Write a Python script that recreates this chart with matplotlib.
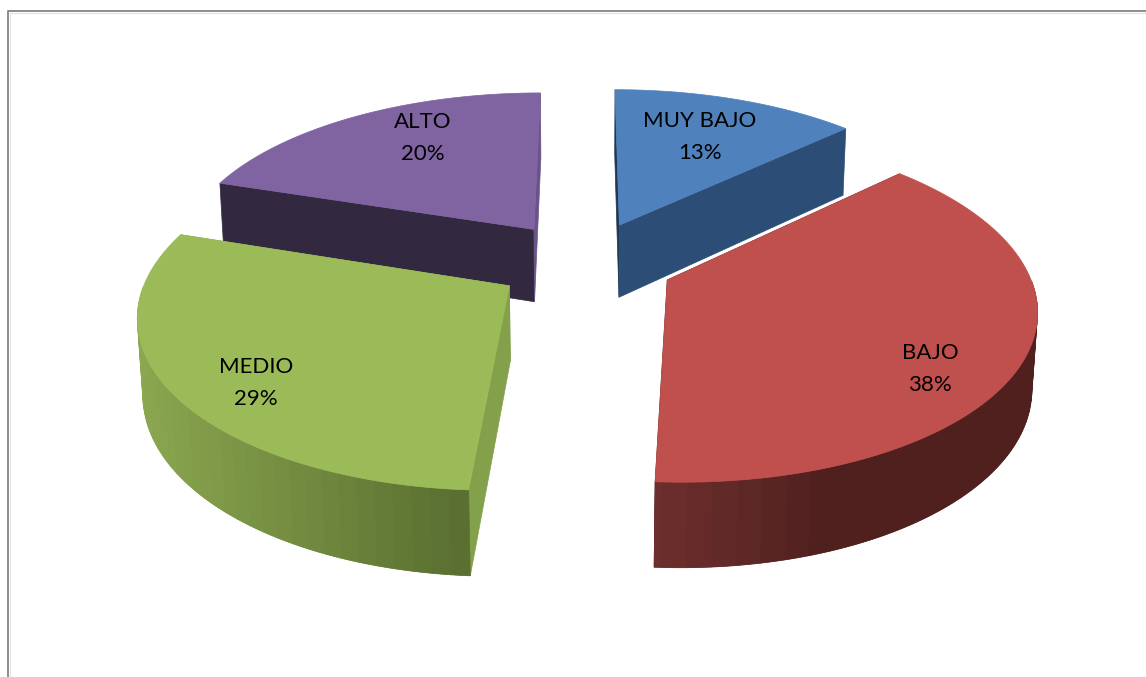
import numpy as np
import matplotlib
matplotlib.use('Agg')
import matplotlib.pyplot as plt
from matplotlib.patches import Polygon

labels = ['MUY BAJO', 'BAJO', 'MEDIO', 'ALTO']
values = [13, 38, 29, 20]

top_colors = ['#4F81BD', '#C0504D', '#9BBB59', '#8064A2']
cut_start = ['#1F3654', '#4F201E', '#83A04A', '#322840']
cut_end = ['#2C4D75', '#4F201E', '#83A04A', '#6B5388']
# outer wall colour at the left and right end of the visible curve
wall_left = ['#2C4D75', '#6E2F2D', '#8BA750', '#322840']
wall_right = ['#2C4D75', '#4F201E', '#586D2F', '#322840']
# part of the curve over which the shade changes, the rest stays flat
wall_span = [1.0, 0.45, 1.0, 1.0]
label_xy = [(700, 137), (930, 369), (256, 383), (423, 138)]

W, H = 1146, 677
# pie position and camera, in pixels of the figure
CX, CY = 585, 262
SX, SY = 358, 166
PERSP = 0.15
EXPLODE = 0.25
DEPTH = 75
BAND_STEP = 4


def project(x, y, z=0.0):
    # z is 0 on the top face and 1 on the bottom one
    s = 1 / (1 + PERSP * np.asarray(y) + 0.012 * z)
    return CX + SX * np.asarray(x) * s, CY - SY * np.asarray(y) * s + DEPTH * z * s


def hexmix(c1, c2, t):
    a = np.array(matplotlib.colors.to_rgb(c1))
    b = np.array(matplotlib.colors.to_rgb(c2))
    return a + (b - a) * t


def draw_wall(ax, xs, ys, i):
    tx, ty = project(xs, ys)
    bx, by = project(xs, ys, 1)
    lo, hi = tx.min(), tx.max()
    # flat piece under the bands so no white shows in the seams
    under = np.vstack([np.column_stack([tx, ty]), np.column_stack([bx, by])[::-1]])
    ax.add_patch(Polygon(under, fc=hexmix(wall_left[i], wall_right[i], 0.5), ec='none'))
    for k in range(0, len(tx) - 1, BAND_STEP):
        n = k + BAND_STEP + 1
        f = ((tx[k] + tx[min(n, len(tx)) - 1]) / 2 - lo) / (hi - lo)
        col = hexmix(wall_left[i], wall_right[i], min(1, f / wall_span[i]))
        quad = np.vstack([np.column_stack([tx[k:n], ty[k:n]]),
                          np.column_stack([bx[k:n], by[k:n]])[::-1]])
        ax.add_patch(Polygon(quad, fc=col, ec=col, lw=0.5))


def draw_slice(ax, a0, a1, i):
    mid = (a0 + a1) / 2
    ox, oy = EXPLODE * np.sin(mid), EXPLODE * np.cos(mid)
    t = np.linspace(a0, a1, 161)
    xs, ys = ox + np.sin(t), oy + np.cos(t)

    # the two cut faces
    for e, col in ((0, cut_start[i]), (-1, cut_end[i])):
        px, py = project(np.array([ox, xs[e], xs[e], ox]), np.array([oy, ys[e], ys[e], oy]),
                         np.array([0, 0, 1, 1]))
        ax.add_patch(Polygon(np.column_stack([px, py]), fc=col, ec=col, lw=0.5))

    # outer wall, back rim is hidden so it is skipped
    vis = np.cos(t) < 0
    if vis.sum() > 1:
        draw_wall(ax, xs[vis], ys[vis], i)

    # top face
    tx, ty = project(xs, ys)
    ax_, ay_ = project(ox, oy)
    pts = np.vstack([[ax_, ay_], np.column_stack([tx, ty])])
    ax.add_patch(Polygon(pts, fc=top_colors[i], ec=top_colors[i], lw=0.5))


fig = plt.figure(figsize=(W / 100, H / 100), dpi=100)
ax = fig.add_axes([0, 0, 1, 1])
ax.set_xlim(0, W)
ax.set_ylim(H, 0)
ax.axis('off')

# chart frame, only top and left show
ax.plot([9.7, 9.7, W], [H, 12.7, 12.7], color='#E2E2E2', lw=0.8)
ax.plot([8, 8, W], [H, 11, 11], color='#8C8C8C', lw=1.4)

edges = np.radians(np.cumsum([0] + values) / sum(values) * 360)
# back slices first
for i in [0, 3, 2, 1]:
    draw_slice(ax, edges[i], edges[i + 1], i)

for i in range(len(labels)):
    ax.text(label_xy[i][0], label_xy[i][1], '%s\n%d%%' % (labels[i], values[i]),
            ha='center', va='center', fontsize=16, family='Lato', color='black', linespacing=1.7)

fig.savefig('out.png', dpi=100)
